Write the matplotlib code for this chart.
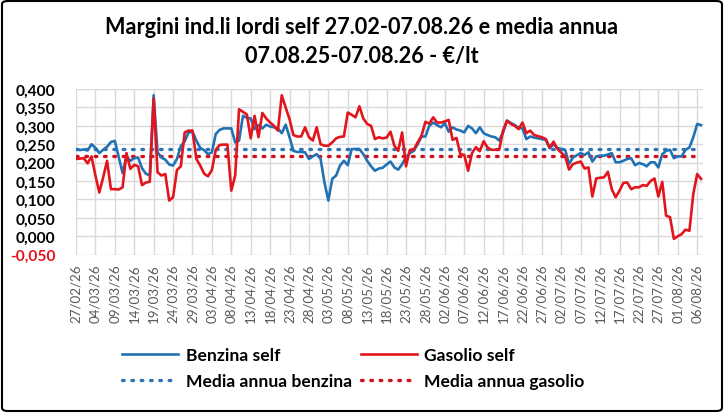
import matplotlib
matplotlib.use("Agg")
import matplotlib.pyplot as plt
import matplotlib.dates as mdates
from matplotlib.patches import FancyBboxPatch
import pandas as pd
import numpy as np

start = pd.Timestamp("2026-02-27")

benzina_days = list(range(0, 162))
benzina = [
    0.237, 0.234, 0.236, 0.233, 0.250, 0.240, 0.226, 0.235, 0.243, 0.256,
    0.259, 0.215, 0.172, 0.217, 0.205, 0.212, 0.214, 0.185, 0.170, 0.165,
    0.383, 0.228, 0.214, 0.208, 0.195, 0.192, 0.210, 0.245, 0.258, 0.282,
    0.284, 0.260, 0.240, 0.234, 0.223, 0.228, 0.278, 0.289, 0.293, 0.293,
    0.293, 0.255, 0.260, 0.327, 0.322, 0.320, 0.291, 0.302, 0.293, 0.303,
    0.298, 0.296, 0.293, 0.280, 0.303, 0.269, 0.232, 0.229, 0.229, 0.228,
    0.210, 0.217, 0.223, 0.210, 0.146, 0.097, 0.156, 0.165, 0.192, 0.205,
    0.193, 0.237, 0.237, 0.237, 0.223, 0.205, 0.190, 0.178, 0.184, 0.186,
    0.195, 0.203, 0.187, 0.181, 0.196, 0.214, 0.226, 0.232, 0.250, 0.271,
    0.271, 0.300, 0.309, 0.302, 0.296, 0.307, 0.284, 0.296, 0.290, 0.287,
    0.282, 0.300, 0.293, 0.280, 0.296, 0.280, 0.275, 0.271, 0.269, 0.260,
    0.282, 0.314, 0.308, 0.302, 0.295, 0.293, 0.264, 0.271, 0.268, 0.266,
    0.264, 0.262, 0.239, 0.250, 0.240, 0.237, 0.235, 0.196, 0.214, 0.220,
    0.226, 0.221, 0.228, 0.203, 0.217, 0.219, 0.219, 0.222, 0.226, 0.201,
    0.201, 0.205, 0.210, 0.212, 0.193, 0.199, 0.196, 0.190, 0.201, 0.201,
    0.187, 0.223, 0.232, 0.235, 0.212, 0.217, 0.217, 0.235, 0.241, 0.269,
    0.305, 0.302,
]

gasolio_days = list(range(0, 162))
gasolio = [
    0.210, 0.211, 0.212, 0.198, 0.217, 0.165, 0.119, 0.160, 0.205, 0.128,
    0.128, 0.127, 0.133, 0.226, 0.183, 0.194, 0.190, 0.139, 0.146, 0.148,
    0.374, 0.174, 0.165, 0.169, 0.097, 0.106, 0.180, 0.190, 0.282, 0.287,
    0.287, 0.210, 0.192, 0.170, 0.163, 0.180, 0.235, 0.248, 0.249, 0.249,
    0.124, 0.165, 0.345, 0.338, 0.331, 0.266, 0.327, 0.269, 0.335, 0.320,
    0.309, 0.300, 0.287, 0.383, 0.350, 0.318, 0.275, 0.271, 0.271, 0.296,
    0.269, 0.260, 0.296, 0.250, 0.246, 0.246, 0.255, 0.266, 0.270, 0.271,
    0.336, 0.330, 0.323, 0.353, 0.320, 0.305, 0.300, 0.264, 0.269, 0.266,
    0.268, 0.284, 0.246, 0.232, 0.282, 0.190, 0.235, 0.235, 0.255, 0.273,
    0.311, 0.306, 0.323, 0.309, 0.309, 0.312, 0.316, 0.262, 0.267, 0.223,
    0.221, 0.178, 0.226, 0.242, 0.231, 0.258, 0.241, 0.235, 0.235, 0.235,
    0.287, 0.314, 0.305, 0.300, 0.291, 0.309, 0.280, 0.287, 0.275, 0.272,
    0.269, 0.264, 0.241, 0.257, 0.237, 0.227, 0.217, 0.181, 0.196, 0.200,
    0.203, 0.184, 0.187, 0.108, 0.157, 0.159, 0.160, 0.175, 0.128, 0.106,
    0.124, 0.145, 0.146, 0.128, 0.133, 0.133, 0.139, 0.137, 0.150, 0.157,
    0.108, 0.148, 0.056, 0.052, -0.007, 0.000, 0.006, 0.018, 0.015, 0.115,
    0.169, 0.156,
]

media_benzina = 0.237
media_gasolio = 0.217

title = "Margini ind.li lordi self 27.02-07.08.26 e media annua\n07.08.25-07.08.26 - €/lt"
series_labels = ["Benzina self", "Gasolio self", "Media annua benzina", "Media annua gasolio"]
y_ticks = [-0.05, 0.0, 0.05, 0.10, 0.15, 0.20, 0.25, 0.30, 0.35, 0.40]

BLUE = "#2171B5"
RED = "#E3141B"
DBLUE = "#2E75B6"
DRED = "#D0101A"

plt.rcParams["font.family"] = ["Lato", "DejaVu Sans"]

fig = plt.figure(figsize=(7.24, 4.14), dpi=100)
ax = fig.add_axes([76 / 724, 1 - 255.7 / 414, (703 - 76) / 724, (255.7 - 90) / 414])

bd = [start + pd.Timedelta(days=d) for d in benzina_days]
gd = [start + pd.Timedelta(days=d) for d in gasolio_days]
all_d = [start + pd.Timedelta(days=d) for d in range(0, 162)]

l1, = ax.plot(bd, benzina, color=BLUE, lw=1.9, solid_joinstyle="round", zorder=3)
l2, = ax.plot(gd, gasolio, color=RED, lw=1.9, solid_joinstyle="round", zorder=4)
l3, = ax.plot([all_d[0], all_d[-1]], [media_benzina, media_benzina], color=DBLUE, lw=2.4,
              linestyle=(0, (0.5, 2.3)), dash_capstyle="round", zorder=2)
l4, = ax.plot([all_d[0], all_d[-1]], [media_gasolio, media_gasolio], color=DRED, lw=2.4,
              linestyle=(0, (0.5, 2.3)), dash_capstyle="round", zorder=2)

ax.set_ylim(-0.05, 0.40)
ax.set_xlim(mdates.date2num(start), mdates.date2num(start) + 161.5)
ax.set_yticks(y_ticks)
ax.set_yticklabels([f"{v:.3f}".replace(".", ",") for v in y_ticks], fontsize=11.2, fontweight="bold")
for lab in ax.get_yticklabels():
    if lab.get_text().startswith("-"):
        lab.set_color("#E3141B")

xt = [start + pd.Timedelta(days=d) for d in range(0, 161, 5)]
ax.set_xticks(xt)
ax.set_xticklabels([d.strftime("%d/%m/%y") for d in xt], rotation=90, fontsize=9.6, color="#595959")
ax.tick_params(axis="both", length=0)
ax.tick_params(axis="x", pad=6)
ax.tick_params(axis="y", pad=15)
ax.grid(True, color="#D9D9D9", lw=1)
ax.set_axisbelow(True)
for s in ax.spines.values():
    s.set_visible(False)

fig.text(0.5, 1 - 42 / 414, title, ha="center", va="center", fontsize=15.6, fontweight="bold",
         linespacing=1.5)

leg = fig.legend([l1, l3, l2, l4], [series_labels[0], series_labels[2], series_labels[1], series_labels[3]],
                 ncol=2, loc="center left", bbox_to_anchor=(106 / 724, 1 - 369 / 414),
                 frameon=False, prop={"size": 12.6, "weight": "bold"}, handlelength=3.2,
                 columnspacing=0.5, labelspacing=0.6, handletextpad=0.45)

border = FancyBboxPatch((2 / 724, 2 / 414), 720 / 724, 410 / 414, boxstyle="round,pad=0,rounding_size=0.008",
                        transform=fig.transFigure, fill=False, edgecolor="black", lw=1.5)
fig.patches.append(border)

fig.savefig("out.png", dpi=100)
